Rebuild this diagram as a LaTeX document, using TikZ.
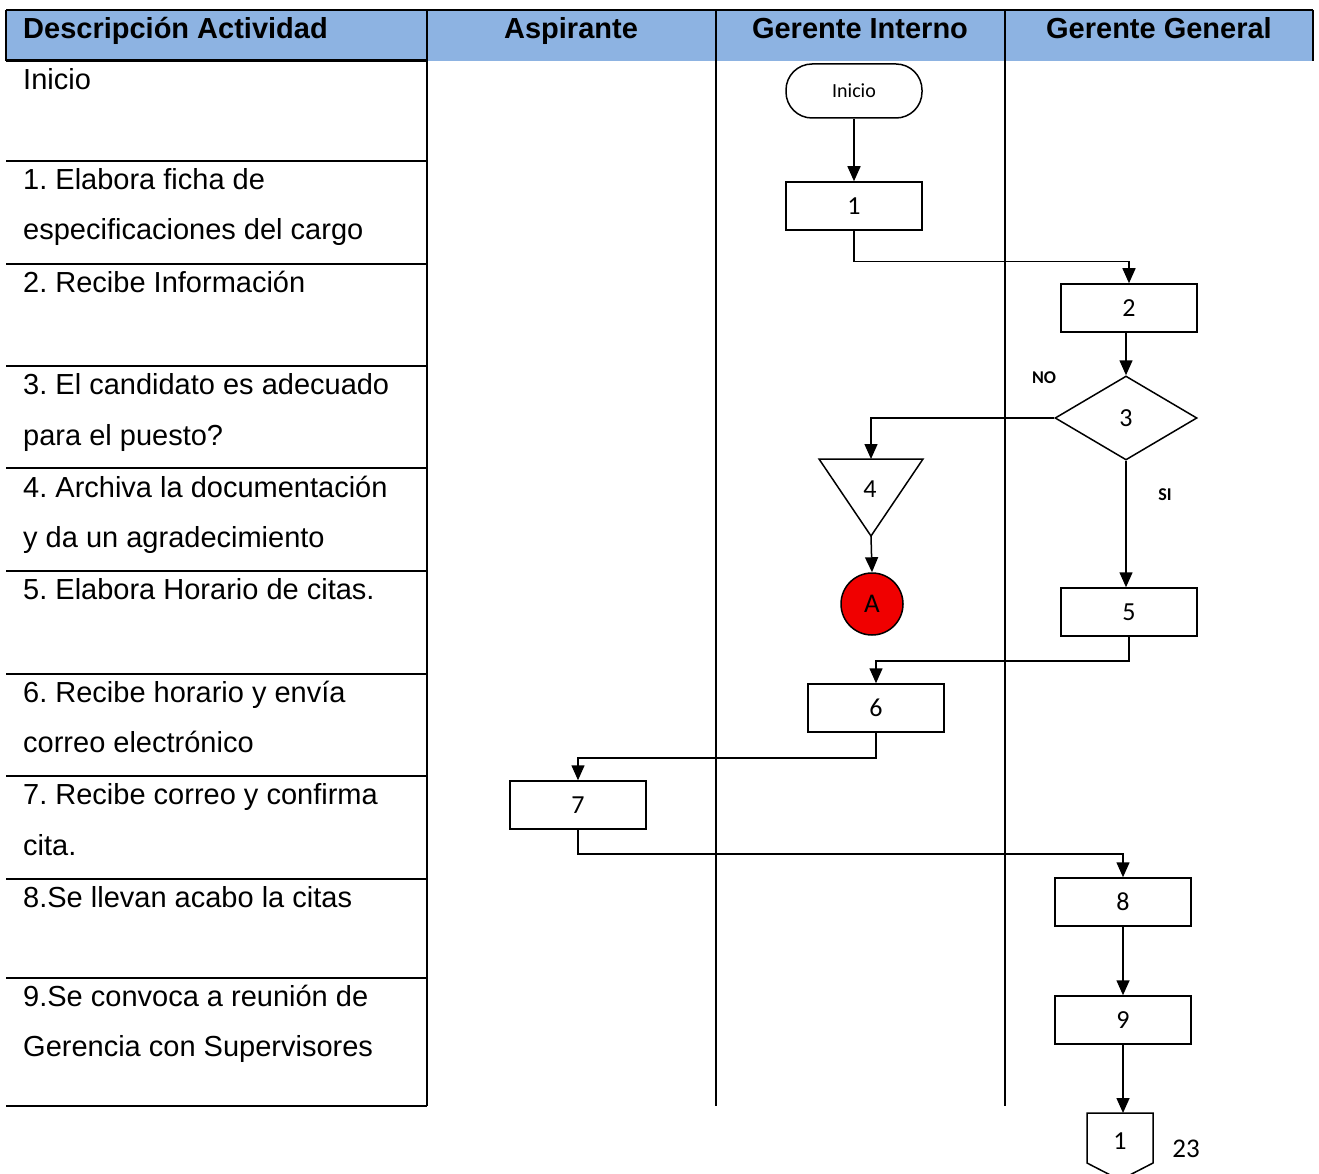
\documentclass[tikz,border=0pt]{standalone}
\usepackage{fontspec}
\setmainfont{Liberation Sans}
\newfontfamily\calib{Carlito}
\usetikzlibrary{arrows.meta,shapes.geometric}
\definecolor{hdrblue}{RGB}{141,179,226}
\definecolor{redA}{RGB}{240,0,0}
\frenchspacing
\begin{document}
\begin{tikzpicture}[x=1pt,y=-1pt,
  tbl/.style={line width=2pt},
  hdr/.style={font=\fontsize{29}{34}\selectfont\bfseries, inner sep=0, anchor=base},
  desc/.style={font=\fontsize{29}{34}\selectfont, anchor=base west, inner sep=0},
  proc/.style={draw, line width=1.5pt, minimum width=136pt, minimum height=48pt, inner sep=0, font=\calib\fontsize{26}{30}\selectfont},
  term/.style={proc, minimum height=54pt, rounded corners=26pt, font=\calib\fontsize{20}{24}\selectfont},
  dia/.style={draw, diamond, line width=1.5pt, minimum width=142pt, minimum height=84pt, inner sep=0, font=\calib\fontsize{26}{30}\selectfont},
  ghost/.style={inner sep=0, outer sep=0},
  num/.style={inner sep=0, font=\calib\fontsize{26}{30}\selectfont},
  lbl/.style={inner sep=0, font=\calib\fontsize{18}{22}\selectfont\bfseries},
  flow/.style={line width=1.5pt, -{Triangle[width=13pt,length=15pt]}}
]
\useasboundingbox (0,0) rectangle (1319,1174);
% header
\fill[hdrblue] (6,10) rectangle (1313,61);
\draw[tbl] (6,10) -- (1313,10);
\draw[tbl] (6,10) -- (6,61);
\draw[tbl] (1313,10) -- (1313,61);
\draw[line width=3pt] (6,61) -- (427,61);
\draw[tbl] (427,10) -- (427,1106);
\draw[tbl] (716,10) -- (716,1106);
\draw[tbl] (1005,10) -- (1005,1106);
\foreach \yy in {161,264,366,468,571,674,776,879,978,1106}
  \draw[tbl] (6,\yy) -- (427,\yy);
\node[hdr, anchor=base west] (h1) at (23,39) {Descripción Actividad};
\node[hdr] (h2) at (571,39) {Aspirante};
\node[hdr] (h3) at (860,39) {Gerente Interno};
\node[hdr] (h4) at (1159,39) {Gerente General};
% descriptions
\node[desc] (d0) at (23,90) {Inicio};
\node[desc] (d1a) at (23,190) {1. Elabora ficha de};
\node[desc] (d1b) at (23,240) {especificaciones del cargo};
\node[desc] (d2) at (23,292) {2. Recibe Información};
\node[desc] (d3a) at (23,394) {3. El candidato es adecuado};
\node[desc] (d3b) at (23,445) {para el puesto?};
\node[desc] (d4a) at (23,497) {4. Archiva la documentación};
\node[desc] (d4b) at (23,547) {y da un agradecimiento};
\node[desc] (d5) at (23,599) {5. Elabora Horario de citas.};
\node[desc] (d6a) at (23,702) {6. Recibe horario y envía};
\node[desc] (d6b) at (23,752) {correo electrónico};
\node[desc] (d7a) at (23,804) {7. Recibe correo y confirma};
\node[desc] (d7b) at (23,855) {cita.};
\node[desc] (d8) at (23,907) {8.Se llevan acabo la citas};
\node[desc] (d9a) at (23,1006) {9.Se convoca a reunión de};
\node[desc] (d9b) at (23,1056) {Gerencia con Supervisores};
% flow nodes
\node[term] (ini) at (854,91) {\raisebox{-4pt}{Inicio}};
\node[proc] (n1) at (854,206) {\raisebox{-4pt}{1}};
\node[proc] (n2) at (1129,308) {\raisebox{-4pt}{2}};
\node[dia] (n3) at (1126,418) {\raisebox{-2pt}{3}};
\node[ghost, minimum width=104pt, minimum height=77pt] (n4) at (871,497.5) {};
\draw[line width=1.5pt, line join=miter] (n4.north west) -- (n4.north east) -- (n4.south) -- cycle;
\node[num] (n4t) at (870,489) {4};
\node[circle, draw, fill=redA, line width=1.5pt, minimum size=62pt, inner sep=0, font=\calib\fontsize{27}{31}\selectfont] (nA) at (872,604) {\raisebox{-6pt}{A}};
\node[proc] (n5) at (1129,612) {\raisebox{-4pt}{5}};
\node[proc] (n6) at (876,708) {\raisebox{-4pt}{6}};
\node[proc] (n7) at (578,805) {\raisebox{-4pt}{7}};
\node[proc] (n8) at (1123,902) {\raisebox{-4pt}{8}};
\node[proc] (n9) at (1123,1020) {\raisebox{-4pt}{9}};
\node[ghost, minimum width=66pt, minimum height=50pt] (off) at (1120,1138) {};
\draw[line width=1.5pt] (off.south west) -- (off.north west) -- (off.north east) -- (off.south east) -- (1120,1180) -- cycle;
\node[num] (offt) at (1120,1141) {1};
\node[inner sep=0, font=\calib\fontsize{27}{31}\selectfont] (pg) at (1186,1149) {23};
\node[lbl] (lno) at (1044,378) {NO};
\node[lbl] (lsi) at (1165,495) {SI};
% connectors
\draw[flow] (ini.south) -- (n1.north);
\draw[flow] (n1.south) -- ++(0,31) -| (n2.north);
\draw[flow] (n2.south -| n3.north) -- (n3.north);
\draw[flow] (n3.west) -| (n4.north);
\draw[flow] (n4.south) -- (nA.north);
\draw[flow] (n3.south) -- (n3.south |- n5.north);
\draw[flow] (n5.south) -- ++(0,24) -| (n6.north);
\draw[flow] (n6.south) -- ++(0,25) -| (n7.north);
\draw[flow] (n7.south) -- ++(0,24) -| (n8.north);
\draw[flow] (n8.south) -- (n9.north);
\draw[flow] (n9.south) -- (n9.south |- off.north);
\end{tikzpicture}
\end{document}
